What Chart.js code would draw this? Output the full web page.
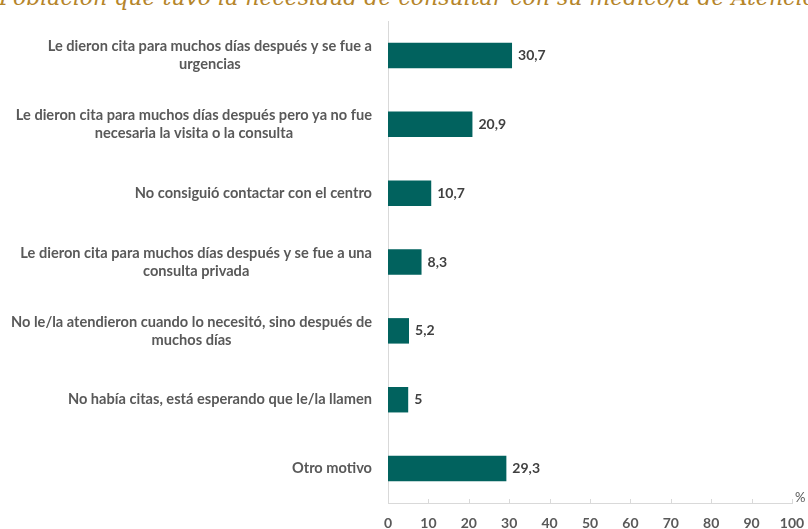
<!DOCTYPE html>
<html lang="es">
<head>
<meta charset="utf-8">
<title>Motivos de la consulta</title>
<script src="https://cdn.jsdelivr.net/npm/chart.js@4.4.1/dist/chart.umd.min.js"></script>
<style>
  html, body { margin: 0; padding: 0; background: #fff; }
  #wrap { position: relative; width: 808px; height: 529px; overflow: hidden; }
  #titulo {
    position: absolute; left: -1px; top: -13px; white-space: nowrap;
    font-family: "DejaVu Serif", serif; font-style: italic; font-size: 22px; line-height: 22px;
    color: #B5852A;
  }
  canvas { position: absolute; left: 0; top: 0; }
</style>
</head>
<body>
<div id="wrap">
  <div id="titulo">Población que tuvo la necesidad de consultar con su médico/a de Atención Primaria</div>
  <canvas id="grafico" width="808" height="529"></canvas>
</div>
<script>
// Motivos (cada uno partido en líneas) y porcentajes
const motivos = [
  ['Le dieron cita para muchos días después y se fue a', 'urgencias'],
  ['Le dieron cita para muchos días después pero ya no fue', 'necesaria la visita o la consulta'],
  ['No consiguió contactar con el centro'],
  ['Le dieron cita para muchos días después y se fue a una', 'consulta privada'],
  ['No le/la atendieron cuando lo necesitó, sino después de', 'muchos días'],
  ['No había citas, está esperando que le/la llamen'],
  ['Otro motivo']
];
const porcentajes = [30.7, 20.9, 10.7, 8.3, 5.2, 5, 29.3];
const ejeX = [0, 10, 20, 30, 40, 50, 60, 70, 80, 90, 100];

const VERDE = '#01625E';
const GRIS_TEXTO = '#595959';
const GRIS_EJE = '#D9D9D9';
const FUENTE = 'Lato, "Open Sans", sans-serif';

const fmt = v => String(v).replace('.', ',');

// etiquetas del eje Y: bloque alineado a la derecha, líneas centradas entre sí
const etiquetasY = {
  id: 'etiquetasY',
  afterDraw(chart) {
    const { ctx, scales: { y } } = chart;
    ctx.save();
    ctx.font = 'bold 14.6px ' + FUENTE;
    ctx.fillStyle = GRIS_TEXTO;
    ctx.textAlign = 'center';
    ctx.textBaseline = 'middle';
    const derecha = chart.chartArea.left - 16;
    const alto = 18;
    motivos.forEach((lineas, i) => {
      const cy = y.getPixelForTick(i);
      const ancho = Math.max(...lineas.map(l => ctx.measureText(l).width));
      const cx = derecha - ancho / 2;
      const y0 = cy - (lineas.length - 1) * alto / 2;
      lineas.forEach((l, k) => ctx.fillText(l, cx, y0 + k * alto));
    });
    ctx.restore();
  }
};

// marcas interiores del eje X y el símbolo %
const marcasX = {
  id: 'marcasX',
  afterDraw(chart) {
    const { ctx, chartArea, scales: { x } } = chart;
    ctx.save();
    ctx.strokeStyle = GRIS_EJE;
    ctx.lineWidth = 1;
    ejeX.forEach(v => {
      const px = Math.round(x.getPixelForValue(v)) + 0.5;
      ctx.beginPath();
      ctx.moveTo(px, chartArea.bottom);
      ctx.lineTo(px, chartArea.bottom - 4);
      ctx.stroke();
    });
    ctx.font = '13px ' + FUENTE;
    ctx.fillStyle = GRIS_TEXTO;
    ctx.textAlign = 'left';
    ctx.textBaseline = 'middle';
    ctx.fillText('%', chartArea.right + 3, chartArea.bottom - 5);
    ctx.restore();
  }
};

// valor al final de cada barra
const valores = {
  id: 'valores',
  afterDatasetsDraw(chart) {
    const { ctx } = chart;
    const meta = chart.getDatasetMeta(0);
    ctx.save();
    ctx.font = 'bold 14px ' + FUENTE;
    ctx.fillStyle = '#404040';
    ctx.textAlign = 'left';
    ctx.textBaseline = 'middle';
    meta.data.forEach((bar, i) => {
      ctx.fillText(fmt(porcentajes[i]), bar.x + 6, bar.y);
    });
    ctx.restore();
  }
};

new Chart(document.getElementById('grafico'), {
  type: 'bar',
  data: {
    labels: motivos,
    datasets: [{
      data: porcentajes,
      backgroundColor: VERDE,
      borderWidth: 0,
      barPercentage: 0.37,
      categoryPercentage: 1
    }]
  },
  options: {
    indexAxis: 'y',
    responsive: false,
    animation: false,
    devicePixelRatio: 1,
    layout: { padding: { top: 21, right: 16, left: 0, bottom: 0 } },
    plugins: { legend: { display: false }, tooltip: { enabled: false }, title: { display: false } },
    scales: {
      x: {
        min: 0, max: 100,
        afterBuildTicks: s => { s.ticks = ejeX.map(v => ({ value: v })); },
        afterFit: s => { s.height = 26; s.paddingLeft = 0; s.paddingRight = 0; },
        grid: { display: false, drawTicks: false },
        border: { color: GRIS_EJE, width: 1 },
        ticks: { padding: 12, color: GRIS_TEXTO, font: { family: FUENTE, size: 14, weight: 'bold' } }
      },
      y: {
        afterFit: s => { s.width = 388; },
        grid: { display: false, drawTicks: false },
        border: { color: GRIS_EJE, width: 1 },
        ticks: { display: false }
      }
    }
  },
  plugins: [etiquetasY, marcasX, valores]
});
</script>
</body>
</html>
